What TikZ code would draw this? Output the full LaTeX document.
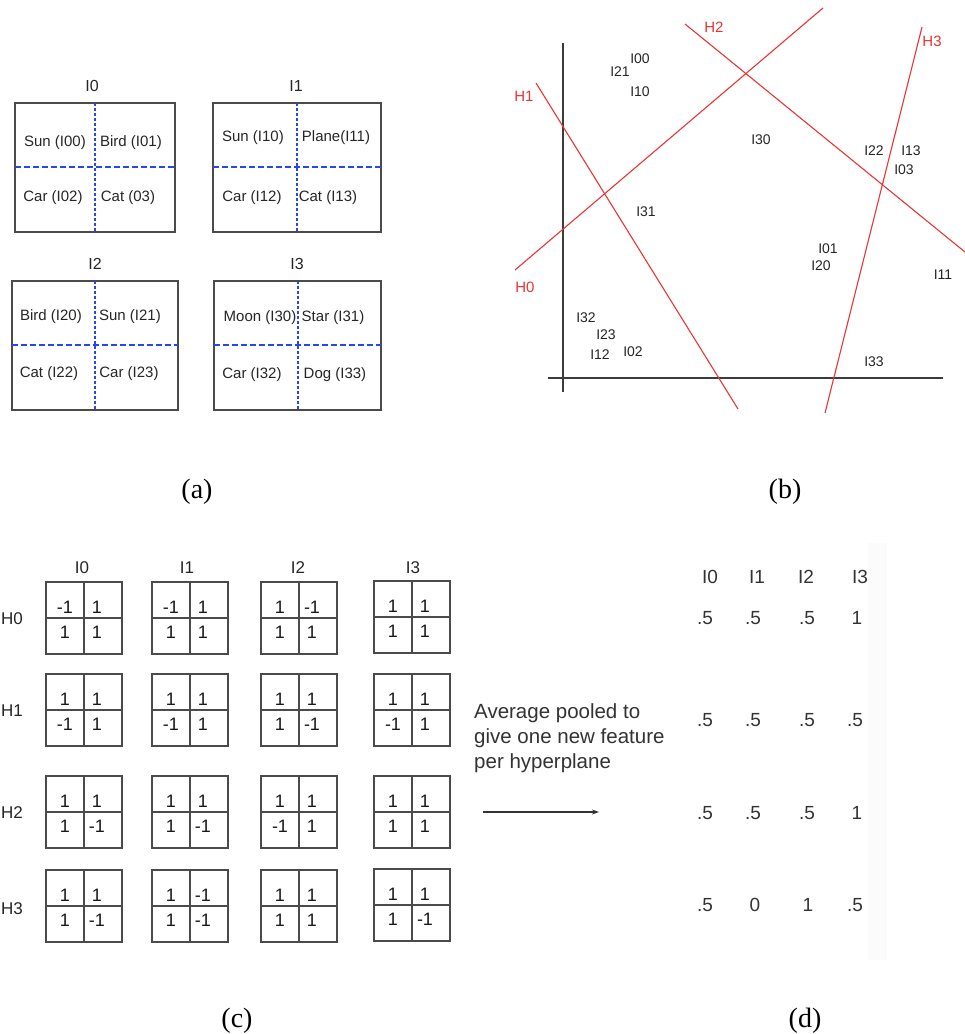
\documentclass[tikz,border=0pt]{standalone}
\usepackage{fontspec}
\setmainfont{Liberation Serif}
\setsansfont{Liberation Sans}
\usetikzlibrary{arrows.meta}
\definecolor{hred}{RGB}{236,52,52}
\definecolor{dblue}{RGB}{40,70,240}
\definecolor{boxgray}{RGB}{75,75,75}
\definecolor{axgray}{RGB}{60,60,60}
\tikzset{
  fs/.style={font=\sffamily\fontsize{#1}{#1}\selectfont},
  atxt/.style={inner sep=0pt, fs=15, text=black!85},
  atitle/.style={inner sep=0pt, fs=16, text=black!85},
  abox/.style={draw=boxgray, line width=1.1pt},
  hdash/.style={draw=dblue, line width=1.5pt, dash pattern=on 6pt off 3pt},
  vdash/.style={draw=dblue, line width=1.2pt, dash pattern=on 3pt off 2pt},
  blab/.style={inner sep=0pt, fs=14, text=black!85},
  hlab/.style={inner sep=0pt, fs=15, text=hred},
  hline/.style={draw=hred, line width=1.1pt},
  axis/.style={draw=axgray, line width=1.1pt},
  cout/.style={draw=boxgray, line width=1.4pt},
  cin/.style={draw=boxgray, line width=1.1pt},
  cnum/.style={inner sep=0pt, fs=18, text=black!90},
  ctitle/.style={inner sep=0pt, fs=17, text=black!85},
  dtxt/.style={inner sep=0pt, fs=19, text=black!80},
  ptxt/.style={inner sep=0pt, font=\sffamily\fontsize{20.5}{25}\selectfont, text=black!80, align=left},
  sublab/.style={inner sep=0pt, font=\rmfamily\fontsize{28}{28}\selectfont},
}
\newcommand{\hpcell}[7]{%
  \draw[cout] (#2,#3) rectangle (#2+76,#3+72);
  \draw[cin] (#2+38,#3) -- (#2+38,#3+72);
  \draw[cin] (#2,#3+36) -- (#2+76,#3+36);
  \node[cnum] (#1tl) at (#2+19,#3+25) {#4};
  \node[cnum] (#1tr) at (#2+51,#3+25) {#5};
  \node[cnum] (#1bl) at (#2+19,#3+50) {#6};
  \node[cnum] (#1br) at (#2+51,#3+50) {#7};
}
\begin{document}
\begin{tikzpicture}[x=1pt,y=-1pt]
\useasboundingbox (0,0) rectangle (965,1034);
\fill[white] (0,0) rectangle (965,1034);

% ---------------- (a) ----------------
\node[atitle] (a0t) at (92,86) {I0};
\draw[abox] (15,103) rectangle (175,232);
\draw[hdash] (15,167) -- (175,167);
\draw[vdash] (95,103) -- (95,232);
\node[atxt] (a00) at (55,143) {Sun (I00)};
\node[atxt] (a01) at (131,143) {Bird (I01)};
\node[atxt] (a02) at (53,198) {Car (I02)};
\node[atxt] (a03) at (128,198) {Cat (03)};

\node[atitle] (a1t) at (296,86) {I1};
\draw[abox] (213,103) rectangle (381,232);
\draw[hdash] (213,167) -- (381,167);
\draw[vdash] (297,103) -- (297,232);
\node[atxt] (a10) at (253,138) {Sun (I10)};
\node[atxt] (a11) at (336,138) {Plane(I11)};
\node[atxt] (a12) at (252,198) {Car (I12)};
\node[atxt] (a13) at (328,198) {Cat (I13)};

\node[atitle] (a2t) at (95,264) {I2};
\draw[abox] (12,281) rectangle (178,410);
\draw[hdash] (12,345) -- (178,345);
\draw[vdash] (95,281) -- (95,410);
\node[atxt] (a20) at (51,317) {Bird (I20)};
\node[atxt] (a21) at (130,317) {Sun (I21)};
\node[atxt] (a22) at (49,374) {Cat (I22)};
\node[atxt] (a23) at (129,374) {Car (I23)};

\node[atitle] (a3t) at (297,264) {I3};
\draw[abox] (214,281) rectangle (381,410);
\draw[hdash] (214,345) -- (381,345);
\draw[vdash] (298,281) -- (298,410);
\node[atxt] (a30) at (260,318) {Moon (I30)};
\node[atxt] (a31) at (333,318) {Star (I31)};
\node[atxt] (a32) at (252,375) {Car (I32)};
\node[atxt] (a33) at (335,375) {Dog (I33)};

\node[sublab] (la) at (197,492) {(a)};

% ---------------- (b) ----------------
\coordinate (vy0) at (563,43);
\coordinate (vy1) at (563,392);
\coordinate (hx0) at (548,378);
\coordinate (hx1) at (943,378);
\draw[axis] (vy0) -- (vy1);
\draw[axis] (hx0) -- (hx1);

\coordinate (h0a) at (515,270);
\coordinate (h0b) at (823,8);
\coordinate (h1a) at (536,83);
\coordinate (h1b) at (738,409);
\coordinate (h2a) at (685,24);
\coordinate (h2b) at (965,252);
\coordinate (h3a) at (922,27);
\coordinate (h3b) at (825,413);
\draw[hline] (h0a) -- (h0b);
\draw[hline] (h1a) -- (h1b);
\draw[hline] (h2a) -- (h2b);
\draw[hline] (h3a) -- (h3b);
\node[hlab] (H0l) at (525,287) {H0};
\node[hlab] (H1l) at (524,96) {H1};
\node[hlab] (H2l) at (714,27) {H2};
\node[hlab] (H3l) at (932,41) {H3};

\node[blab] (p00) at (640,59) {I00};
\node[blab] (p21) at (620,72) {I21};
\node[blab] (p10) at (640,92) {I10};
\node[blab] (p30) at (761,140) {I30};
\node[blab] (p22) at (874,151) {I22};
\node[blab] (p13) at (911,151) {I13};
\node[blab] (p03) at (904,170) {I03};
\node[blab] (p31) at (646,212) {I31};
\node[blab] (p01) at (828,249) {I01};
\node[blab] (p20) at (821,266) {I20};
\node[blab] (p11) at (943,275) {I11};
\node[blab] (p32) at (586,318) {I32};
\node[blab] (p23) at (606,335) {I23};
\node[blab] (p12) at (600,355) {I12};
\node[blab] (p02) at (633,352) {I02};
\node[blab] (p33) at (874,362) {I33};

\node[sublab] (lb) at (785,492) {(b)};

% ---------------- (c) ----------------
\node[ctitle] (c0t) at (82,568) {I0};
\node[ctitle] (c1t) at (187,568) {I1};
\node[ctitle] (c2t) at (298,568) {I2};
\node[ctitle] (c3t) at (413,568) {I3};
\node[ctitle] (r0) at (12,619) {H0};
\node[ctitle] (r1) at (12,711) {H1};
\node[ctitle] (r2) at (12,813) {H2};
\node[ctitle] (r3) at (12,909) {H3};

\hpcell{c00}{46}{582}{-1}{1}{1}{1}
\hpcell{c01}{152}{582}{-1}{1}{1}{1}
\hpcell{c02}{261}{582}{1}{-1}{1}{1}
\hpcell{c03}{374}{581}{1}{1}{1}{1}

\hpcell{c10}{46}{674}{1}{1}{-1}{1}
\hpcell{c11}{152}{674}{1}{1}{-1}{1}
\hpcell{c12}{261}{674}{1}{1}{1}{-1}
\hpcell{c13}{374}{674}{1}{1}{-1}{1}

\hpcell{c20}{46}{776}{1}{1}{1}{-1}
\hpcell{c21}{152}{776}{1}{1}{1}{-1}
\hpcell{c22}{261}{776}{1}{1}{-1}{1}
\hpcell{c23}{374}{776}{1}{1}{1}{1}

\hpcell{c30}{46}{870}{1}{1}{1}{-1}
\hpcell{c31}{152}{870}{1}{-1}{1}{-1}
\hpcell{c32}{261}{870}{1}{1}{1}{1}
\hpcell{c33}{374}{869}{1}{1}{1}{-1}

\node[sublab] (lc) at (237,1021) {(c)};

% ---------------- (d) ----------------
\fill[black!1.5] (868,543) rectangle (887,960);
\node[ptxt, anchor=west] (ptext) at (474,738) {Average pooled to\\give one new feature\\per hyperplane};
\coordinate (arA) at (483,812);
\coordinate (arB) at (599,812);
\draw[draw=black!80, line width=1.2pt, -{Stealth[length=7pt,width=5pt]}] (arA) -- (arB);

\node[dtxt] (d0) at (710,577) {I0};
\node[dtxt] (d1) at (757,577) {I1};
\node[dtxt] (d2) at (806,577) {I2};
\node[dtxt] (d3) at (860,577) {I3};

\node[dtxt] (v00) at (705,618) {.5};
\node[dtxt] (v01) at (753,618) {.5};
\node[dtxt] (v02) at (807,618) {.5};
\node[dtxt] (v03) at (857,618) {1};

\node[dtxt] (v10) at (705,720) {.5};
\node[dtxt] (v11) at (753,720) {.5};
\node[dtxt] (v12) at (807,720) {.5};
\node[dtxt] (v13) at (855,720) {.5};

\node[dtxt] (v20) at (705,813) {.5};
\node[dtxt] (v21) at (753,813) {.5};
\node[dtxt] (v22) at (807,813) {.5};
\node[dtxt] (v23) at (857,813) {1};

\node[dtxt] (v30) at (705,905) {.5};
\node[dtxt] (v31) at (755,905) {0};
\node[dtxt] (v32) at (808,905) {1};
\node[dtxt] (v33) at (855,905) {.5};

\node[sublab] (ld) at (805,1021) {(d)};
\end{tikzpicture}
\end{document}
